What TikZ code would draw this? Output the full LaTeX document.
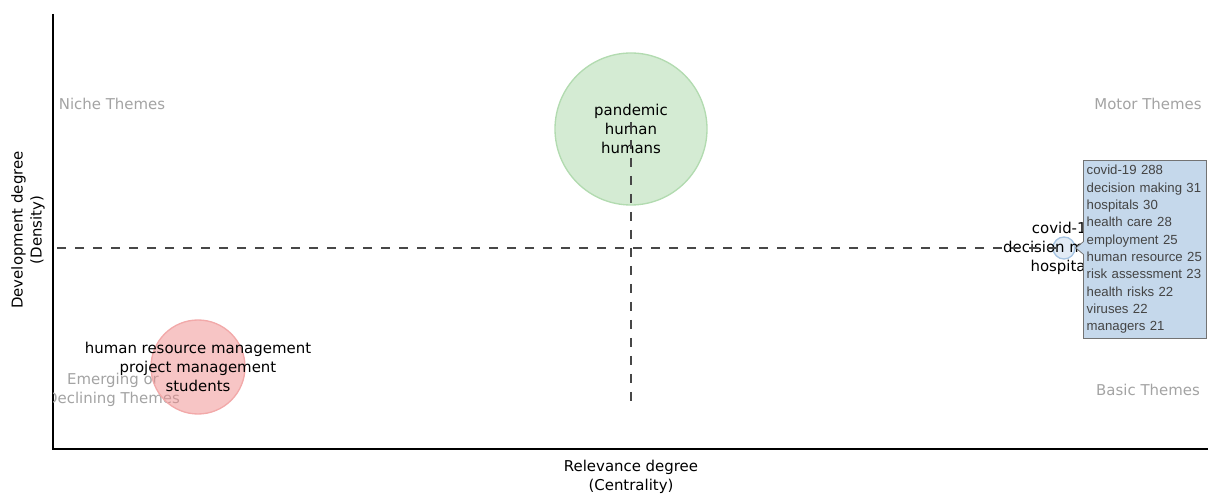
\documentclass[tikz,border=0pt]{standalone}
\usepackage{fontspec}
\setmainfont{DejaVu Sans}
\newfontfamily\tipfont{Liberation Sans}
\usepackage{xcolor}
\usetikzlibrary{positioning,calc}

\definecolor{greenfill}{HTML}{A9D7A7}
\definecolor{greenline}{HTML}{B2DBB0}
\definecolor{redfill}{HTML}{EF8B8B}
\definecolor{redline}{HTML}{F2A9A9}
\definecolor{bluefill}{HTML}{C5D8EB}
\definecolor{blueline}{HTML}{A6C4E2}
\definecolor{quadgray}{HTML}{A3A3A3}
\definecolor{tipgray}{HTML}{444444}

\begin{document}
\begin{tikzpicture}[
    x=0.75pt, y=-0.75pt,
    theme/.style={circle, line width=1pt, inner sep=0pt, fill opacity=0.5, draw opacity=1},
    label/.style={align=center, font=\fontsize{11.2}{14.25}\selectfont, text=black},
    quadrant/.style={align=center, font=\fontsize{11.2}{14.25}\selectfont, text=quadgray},
    tipbox/.style={fill=bluefill, draw=black!55, line width=0.6pt},
    axisline/.style={line width=1.1pt},
    median/.style={line width=1.5pt, draw=black!72, dash pattern=on 7pt off 6.5pt}
]
    \useasboundingbox (0,0) rectangle (1208,495);

    % Axes
    \coordinate (ytop) at (53,14);
    \coordinate (origin) at (53,449);
    \coordinate (xend) at (1208,449);
    \draw[axisline] (ytop) -- (origin) -- (xend);
    \node[label] (xtitle) at (631,477) {Relevance degree\\(Centrality)};
    \node[label, rotate=90] (ytitle) at (28,230) {Development degree\\(Density)};

    % Quadrant names
    \node[quadrant] (niche) at (112,104) {Niche Themes};
    \node[quadrant] (motor) at (1148,104) {Motor Themes};
    \node[quadrant] (basic) at (1148,390) {Basic Themes};
    \begin{scope}
        \clip (53,0) rectangle (1208,449);
        \node[quadrant] (emerging) at (113,390) {Emerging or\\Declining Themes};
    \end{scope}

    % Clusters
    \node[theme, fill=greenfill, draw=greenline, minimum size=114pt] (pandemic) at (631,129) {};
    \node[theme, fill=redfill, draw=redline, minimum size=70.5pt] (hrm) at (198,367) {};
    \node[theme, fill=bluefill, draw=blueline, minimum size=16.5pt] (covid) at (1064,248) {};
    \node[label] (pandemiclabel) at (pandemic) {pandemic\\human\\humans};
    \node[label] (hrmlabel) at (hrm) {human resource management\\project management\\students};
    \node[label] (covidlabel) at (covid) {covid-19\\decision making\\hospitals};

    % Medians
    \coordinate (hleft) at (57,248);
    \coordinate (vtop) at (631,122);
    \coordinate (vbottom) at (631,406);
    \draw[median] (hleft) -- (covid.center);
    \draw[median] (vtop) -- (vbottom);

    % Hover box
    \node[tipbox, anchor=north west, minimum width=91.5pt, minimum height=133.5pt,
          text width=87pt, inner sep=2.5pt, align=left, text=tipgray,
          font=\tipfont\fontsize{9.9}{13}\selectfont] (tip) at (1083,160)
        {covid-19 288\\decision making 31\\hospitals 30\\health care 28\\employment 25\\human resource 25\\risk assessment 23\\health risks 22\\viruses 22\\managers 21};
    \coordinate (tipa) at ($(tip.west |- covid)+(0,-6)$);
    \coordinate (tipb) at ($(tip.west |- covid)+(0,6)$);
    \fill[bluefill] ($(tipa)+(0.8,0)$) -- (covid.east) -- ($(tipb)+(0.8,0)$) -- cycle;
    \draw[black!55, line width=0.6pt] (tipa) -- (covid.east) -- (tipb);
\end{tikzpicture}
\end{document}
